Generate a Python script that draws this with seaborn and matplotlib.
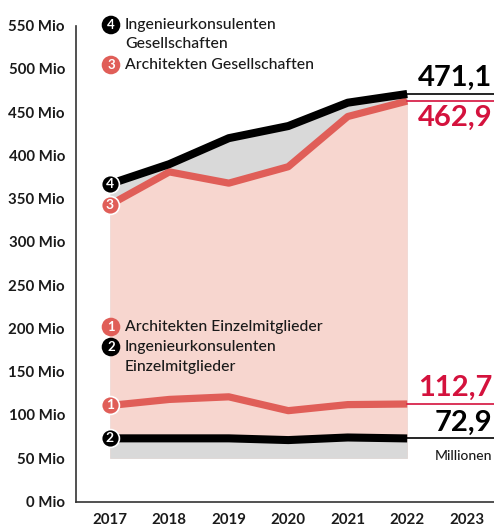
import matplotlib

matplotlib.use("Agg")

import matplotlib.pyplot as plt
import matplotlib.transforms as mtransforms
import pandas as pd
import seaborn as sns

# Data (Mio)
years = [2017, 2018, 2019, 2020, 2021, 2022]
ing_ges = [367, 390, 420, 434, 461, 471.1]      # 4
arch_ges = [343, 381, 368, 387, 445, 462.9]     # 3
arch_einzel = [111, 118, 121, 105, 112, 112.7]  # 1
ing_einzel = [73, 73, 73, 71, 74, 72.9]         # 2
y_ticks = [0, 50, 100, 150, 200, 250, 300, 350, 400, 450, 500, 550]
x_ticks = [2017, 2018, 2019, 2020, 2021, 2022, 2023]

RED = "#E05E58"
PINK = "#F7D6CF"
GREY = "#D9D9D9"
CRIMSON = "#D4123D"
DARK = "#333333"

sns.set_theme(style="white")
plt.rcParams["font.family"] = ["Lato", "DejaVu Sans"]

df = pd.DataFrame({
    "year": years,
    "ing_ges": ing_ges,
    "arch_ges": arch_ges,
    "arch_einzel": arch_einzel,
    "ing_einzel": ing_einzel,
})

fig = plt.figure(figsize=(4.94, 5.26), dpi=100)
ax = fig.add_axes([76 / 494, (526 - 501.5) / 526, (494 - 76) / 494, (501.5 - 25.7) / 526])

# Fills
ax.fill_between(df["year"], 50, df["ing_ges"], color=GREY, lw=0, zorder=1)
ax.fill_between(df["year"], 50, df["arch_ges"], color=PINK, lw=0, zorder=1.1)
ax.fill_between(df["year"], 50, df["ing_einzel"], color=GREY, lw=0, zorder=1.2)

# Lines
line_kw = dict(solid_capstyle="butt", solid_joinstyle="round", legend=False)
sns.lineplot(data=df, x="year", y="arch_einzel", color=RED, lw=5.2, ax=ax, zorder=3, **line_kw)
sns.lineplot(data=df, x="year", y="ing_einzel", color="black", lw=5.8, ax=ax, zorder=3, **line_kw)
sns.lineplot(data=df, x="year", y="arch_ges", color=RED, lw=5.2, ax=ax, zorder=3, **line_kw)
sns.lineplot(data=df, x="year", y="ing_ges", color="black", lw=5.8, ax=ax, zorder=3.1, **line_kw)

# Numbered markers at start
markers = [(ing_ges[0], "4", "black"), (arch_ges[0], "3", RED),
           (arch_einzel[0], "1", RED), (ing_einzel[0], "2", "black")]
for val, num, col in markers:
    ax.scatter([years[0]], [val], s=165, color=col, edgecolor="white", linewidth=1.2, zorder=5)
    ax.text(years[0], val, num, color="white", fontsize=10, fontweight="bold",
            ha="center", va="center", zorder=6)

# Legend-like labels
def label(xpix, ypix, num, col, lines):
    fx = xpix / 494
    fy = 1 - ypix / 526
    fig.text(fx, fy, num, color="white", fontsize=9.5, fontweight="bold", ha="center", va="center",
             bbox=dict(boxstyle="circle,pad=0.25", fc=col, ec="none"))
    for i, t in enumerate(lines):
        fig.text(125 / 494, 1 - (ypix + i * 19.5) / 526, t, fontsize=11.3, color="#1a1a1a",
                 fontweight="medium", ha="left", va="center")

label(111, 25, "4", "black", ["Ingenieurkonsulenten", "Gesellschaften"])
label(111, 65, "3", RED, ["Architekten Gesellschaften"])
label(111, 327, "1", RED, ["Architekten Einzelmitglieder"])
label(111, 347, "2", "black", ["Ingenieurkonsulenten", "Einzelmitglieder"])

# End value annotations
trans = mtransforms.blended_transform_factory(ax.transAxes, ax.transData)
x0 = (2022 - 2016.43) / (2023.46 - 2016.43)
ann = [(471.1, "471,1", "black", "bottom"), (462.9, "462,9", CRIMSON, "top"),
       (112.7, "112,7", CRIMSON, "bottom"), (72.9, "72,9", "black", "bottom")]
for val, txt, col, va in ann:
    ax.plot([x0, 1], [val, val], color=col, lw=1.2, transform=trans, zorder=4, clip_on=False)
    off = 2 if va == "bottom" else -3
    ax.annotate(txt, xy=(0.996, val), xycoords=trans, xytext=(0, off), textcoords="offset points",
                ha="right", va=va, fontsize=21, fontweight="bold", color=col)
ax.annotate("Millionen", xy=(0.996, 72.9), xycoords=trans, xytext=(0, -8),
            textcoords="offset points", ha="right", va="top", fontsize=10,
            fontweight="medium", color="#1a1a1a")

# Axes styling
ax.set_xlim(2016.43, 2023.46)
ax.set_ylim(0, 550)
ax.set_xticks(x_ticks)
ax.set_xticklabels([str(x) for x in x_ticks])
ax.set_yticks(y_ticks)
ax.set_yticklabels([f"{v} Mio" for v in y_ticks])
ax.set_xlabel("")
ax.set_ylabel("")
for s in ["top", "right"]:
    ax.spines[s].set_visible(False)
for s in ["left", "bottom"]:
    ax.spines[s].set_color(DARK)
    ax.spines[s].set_linewidth(1.2)
ax.tick_params(axis="both", direction="in", length=11, width=1, color=DARK,
               labelsize=10.8, labelcolor="#1a1a1a")
ax.tick_params(axis="y", pad=8)
ax.tick_params(axis="x", pad=8)
for t in ax.get_xticklabels() + ax.get_yticklabels():
    t.set_fontweight("bold")
ax.set_facecolor("white")
ax.grid(False)

fig.savefig("out.png", dpi=100)
